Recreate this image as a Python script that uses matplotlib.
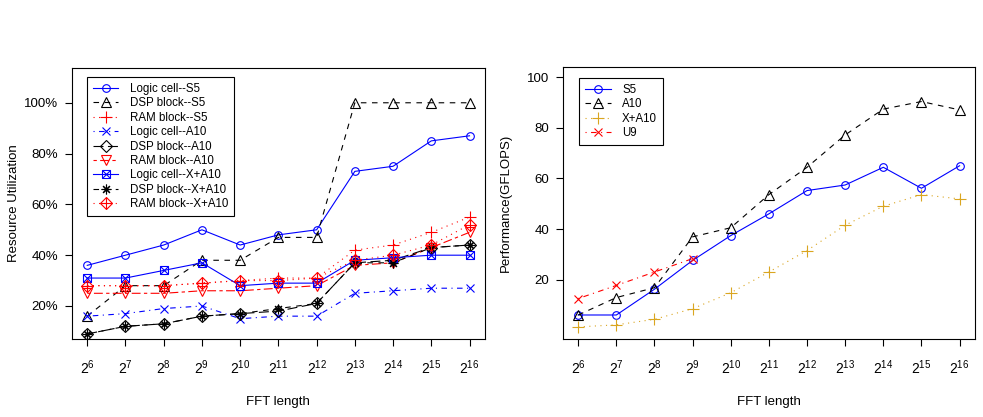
import numpy as np
import matplotlib
matplotlib.use('Agg')
from matplotlib import pyplot as plt
from matplotlib.ticker import PercentFormatter

plt.rcParams.update({'font.family': ['Liberation Sans', 'DejaVu Sans'],
                     'font.size': 9.5,
                     'mathtext.default': 'regular',
                     'axes.linewidth': 0.8,
                     'xtick.major.width': 0.8,
                     'ytick.major.width': 0.8})

fft_exp = [6, 7, 8, 9, 10, 11, 12, 13, 14, 15, 16]
xtick_labels = ['$2^{%d}$' % e for e in fft_exp]

# resource utilization (fraction)
logic_s5 = [0.36, 0.40, 0.44, 0.50, 0.44, 0.48, 0.50, 0.73, 0.75, 0.85, 0.87]
dsp_s5 = [0.16, 0.28, 0.28, 0.38, 0.38, 0.47, 0.47, 1.00, 1.00, 1.00, 1.00]
ram_s5 = [0.28, 0.28, 0.28, 0.29, 0.30, 0.31, 0.31, 0.42, 0.44, 0.49, 0.55]
logic_a10 = [0.16, 0.17, 0.19, 0.20, 0.15, 0.16, 0.16, 0.25, 0.26, 0.27, 0.27]
dsp_a10 = [0.09, 0.12, 0.13, 0.16, 0.17, 0.18, 0.21, 0.37, 0.38, 0.43, 0.44]
ram_a10 = [0.25, 0.25, 0.25, 0.26, 0.26, 0.27, 0.28, 0.36, 0.37, 0.43, 0.49]
logic_xa10 = [0.31, 0.31, 0.34, 0.37, 0.28, 0.29, 0.29, 0.38, 0.39, 0.40, 0.40]
dsp_xa10 = [0.09, 0.12, 0.13, 0.16, 0.17, 0.19, 0.21, 0.37, 0.37, 0.43, 0.44]
ram_xa10 = [0.28, 0.28, 0.28, 0.29, 0.30, 0.30, 0.31, 0.38, 0.40, 0.44, 0.52]

left_labels = ['Logic cell--S5', 'DSP block--S5', 'RAM block--S5',
               'Logic cell--A10', 'DSP block--A10', 'RAM block--A10',
               'Logic cell--X+A10', 'DSP block--X+A10', 'RAM block--X+A10']

# performance (GFLOPS)
perf_s5 = [6.0, 6.0, 16.2, 27.6, 37.4, 46.0, 55.2, 57.4, 64.4, 56.1, 65.0]
perf_a10 = [6.0, 12.9, 16.8, 36.9, 40.5, 53.6, 64.4, 77.2, 87.4, 90.4, 87.1]
perf_xa10 = [1.3, 2.1, 4.3, 8.5, 14.8, 23.0, 31.5, 41.5, 49.0, 53.6, 51.9]
perf_u9 = [12.5, 17.7, 23.0, 28.3]
right_labels = ['S5', 'A10', 'X+A10', 'U9']

# R-like line types
LTY = {1: '-', 2: (0, (5, 5)), 3: (0, (1, 4)), 4: (0, (1, 4, 5, 4)),
       5: (0, (9, 4)), 6: (0, (3, 3, 8, 3))}


def draw(ax, x, y, color, lty, markers):
    line, = ax.plot(x, y, color=color, linestyle=LTY[lty], lw=0.8)
    hs = [line]
    for m, s in markers:
        h, = ax.plot(x, y, linestyle='none', marker=m, ms=s, mfc='none',
                     mec=color, mew=0.8)
        hs.append(h)
    return tuple(hs)


def style_axes(ax):
    ax.set_xlim(5.6, 16.4)
    ax.set_xticks(fft_exp)
    ax.set_xticklabels(xtick_labels, fontsize=10)
    ax.tick_params(direction='out', length=5, pad=9, axis='x')
    ax.tick_params(direction='out', length=5, pad=5, axis='y')
    ax.set_xlabel('FFT length')
    ax.xaxis.set_label_coords(0.5, -0.21)
    ax.yaxis.set_label_coords(-0.125, 0.5)


def make_legend(ax, handles, labels, anchor, hlen):
    leg = ax.legend(handles, labels, loc='upper left', bbox_to_anchor=anchor,
                    borderaxespad=0, fancybox=False, framealpha=1,
                    edgecolor='black', fontsize=8.3, handlelength=hlen,
                    handletextpad=1.0, labelspacing=0.21, borderpad=0.5,
                    numpoints=1)
    leg.get_frame().set_linewidth(0.8)


fig = plt.figure(figsize=(9.83, 4.17), dpi=100)
ax1 = fig.add_axes([0.0732, 0.187, 0.420, 0.650])
ax2 = fig.add_axes([0.5727, 0.187, 0.419, 0.652])

########################### resource utilization ##############################
h = []
h.append(draw(ax1, fft_exp, logic_s5, 'blue', 1, [('o', 5.5)]))
h.append(draw(ax1, fft_exp, dsp_s5, 'black', 2, [('^', 6.5)]))
h.append(draw(ax1, fft_exp, ram_s5, 'red', 3, [('+', 8)]))
h.append(draw(ax1, fft_exp, logic_a10, 'blue', 4, [('x', 6)]))
h.append(draw(ax1, fft_exp, dsp_a10, 'black', 5, [('D', 6)]))
h.append(draw(ax1, fft_exp, ram_a10, 'red', 6, [('v', 6.5)]))
h.append(draw(ax1, fft_exp, logic_xa10, 'blue', 1, [('s', 6), ('x', 6)]))
h.append(draw(ax1, fft_exp, dsp_xa10, 'black', 2, [((8, 2, 0), 7)]))
h.append(draw(ax1, fft_exp, ram_xa10, 'red', 3, [('D', 6.5), ('+', 8)]))

ax1.set_ylim(0.07, 1.137)
ax1.set_yticks([0.2, 0.4, 0.6, 0.8, 1.0])
ax1.yaxis.set_major_formatter(PercentFormatter(1.0, decimals=0))
ax1.set_ylabel('Resource Utilization')
style_axes(ax1)
make_legend(ax1, h, left_labels, (0.037, 0.966), 2.2)

########################### performance #######################################
h = []
h.append(draw(ax2, fft_exp, perf_s5, 'blue', 1, [('o', 5.5)]))
h.append(draw(ax2, fft_exp, perf_a10, 'black', 2, [('^', 6.5)]))
h.append(draw(ax2, fft_exp, perf_xa10, 'goldenrod', 3, [('+', 8)]))
h.append(draw(ax2, fft_exp[:len(perf_u9)], perf_u9, 'red', 4, [('x', 6)]))

ax2.set_ylim(-3.5, 104)
ax2.set_yticks([20, 40, 60, 80, 100])
ax2.set_ylabel('Performance(GFLOPS)')
style_axes(ax2)
make_legend(ax2, h, right_labels, (0.040, 0.96), 2.2)

fig.savefig('out.png', dpi=100)
